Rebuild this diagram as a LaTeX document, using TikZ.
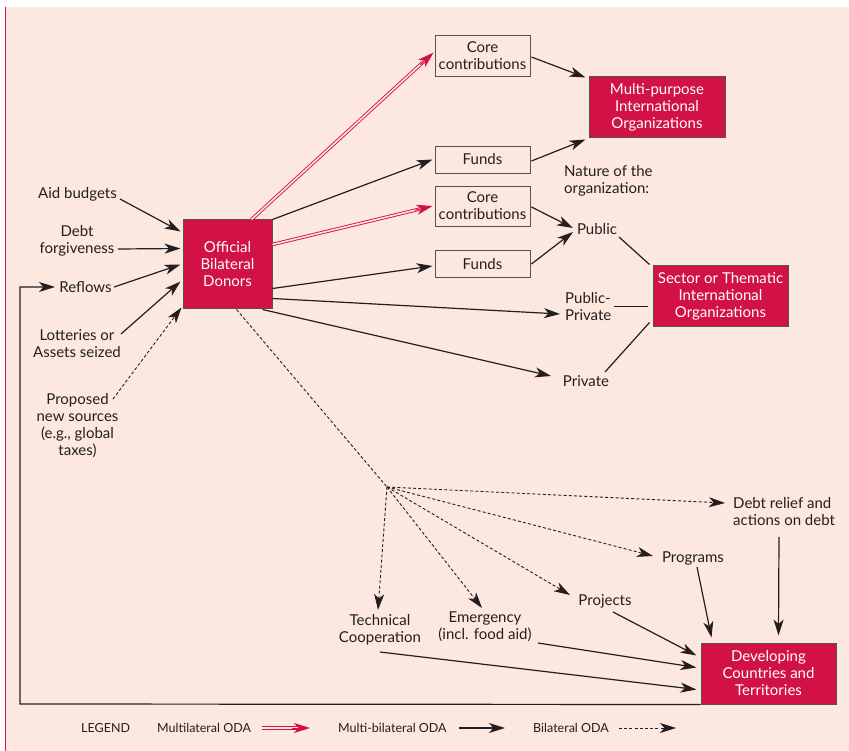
\documentclass[tikz,border=0pt]{standalone}
\usepackage{fontspec}
\setmainfont{Lato}
\usetikzlibrary{arrows.meta,calc}
\definecolor{bg}{HTML}{FCE8DE}
\definecolor{crim}{HTML}{D21145}
\definecolor{ink}{HTML}{231F20}
\definecolor{edge}{HTML}{5A5050}
\begin{document}
\begin{tikzpicture}[x=1pt,y=-1pt,
  txt/.style={font=\fontsize{15}{17}\selectfont, text=ink, inner sep=0pt, align=center},
  leg/.style={font=\fontsize{12.5}{15}\selectfont, text=ink, inner sep=0pt, anchor=west},
  redbox/.style={draw=edge, line width=1pt, fill=crim, text=white, inner sep=1pt,
    font=\fontsize{15}{17}\selectfont, align=center},
  wbox/.style={draw=edge, line width=0.9pt, fill=bg, text=ink, inner sep=0pt,
    font=\fontsize{15}{17}\selectfont, align=center, minimum width=95pt},
  tipa/.style={-{Stealth[length=16pt,width=10pt,inset=4.5pt]}},
  arr/.style={draw=ink, line width=1.2pt, tipa},
  plain/.style={draw=ink, line width=1.2pt},
  dotline/.style={draw=ink, line width=0.9pt, dash pattern=on 3pt off 2.2pt},
  dotarr/.style={dotline, tipa},
  mlshaft/.style={draw=crim, line width=0.9pt, double=bg, double distance=1.6pt, shorten >=10pt},
  mltip/.style={draw=crim, line width=0.9pt, tipa}
]
\useasboundingbox (0,0) rectangle (849,751);
\fill[white] (0,0) rectangle (849,751);
\fill[bg] (5,7) rectangle (849,751);
\draw[crim, line width=1.6pt] (5.6,7) -- (5.6,751);

% main boxes
\node[redbox, minimum width=89pt, minimum height=89pt] (don) at (227.5,264.5) {Official\\Bilateral\\Donors};
\node[redbox, minimum width=136pt, minimum height=61pt] (mp) at (657,107.5) {Multi-purpose\\International\\Organizations};
\node[redbox, minimum width=135pt, minimum height=61pt] (st) at (720.5,296.5) {Sector or Thematic\\International\\Organizations};
\node[redbox, minimum width=135pt, minimum height=61pt] (dev) at (768.5,673.5) {Developing\\Countries and\\Territories};

\node[wbox, minimum height=41pt] (core1) at (482.5,55.5) {Core\\contributions};
\node[wbox, minimum height=27pt] (fund1) at (482.5,159.5) {Funds};
\node[wbox, minimum height=40pt] (core2) at (482.5,206) {Core\\contributions};
\node[wbox, minimum height=27pt] (fund2) at (482.5,264) {Funds};

% left labels
\node[txt] (aid) at (77.5,194) {Aid budgets};
\node[txt] (debt) at (77,240.5) {Debt\\forgiveness};
\node[txt] (refl) at (85.5,287) {Reflows};
\node[txt] (lott) at (77,343.5) {Lotteries or\\Assets seized};
\node[txt] (prop) at (77.5,425.5) {Proposed\\new sources\\(e.g., global\\taxes)};

% right labels
\node[txt, align=left, anchor=west] (nat) at (564,180.5) {Nature of the\\organization:};
\node[txt] (pub) at (597,229) {Public};
\node[txt, align=left, anchor=west] (pp) at (565,306.5) {Public-\\Private};
\node[txt] (priv) at (586,381) {Private};

% lower labels
\node[txt, align=left, anchor=west] (dr) at (733,511.5) {Debt relief and\\actions on debt};
\node[txt] (prog) at (693,558) {Programs};
\node[txt] (proj) at (605,601) {Projects};
\node[txt] (emer) at (485,626.5) {Emergency\\(incl. food aid)};
\node[txt] (tech) at (380,630) {Technical\\Cooperation};
\coordinate (hub) at (387,487);

% inputs to donors
\draw[arr] ([shift={(42.5,5)}]aid.center) -- ([shift={(-2,12)}]don.north west);
\draw[arr] ([shift={(41,8.5)}]debt.center) -- ([shift={(-2,29)}]don.north west);
\draw[arr] ([shift={(28.5,0)}]refl.center) -- ([shift={(-2,45)}]don.north west);
\draw[arr] ([shift={(44,-9.5)}]lott.center) -- ([shift={(-2,62)}]don.north west);
\draw[dotarr] ([shift={(35.5,-26.5)}]prop.center) -- ([shift={(-1,88)}]don.north west);

% feedback loop
\coordinate (fbc) at (20,704);
\draw[arr] (dev.south west) -- (fbc) |- ([shift={(-30.5,0)}]refl.center);

% multilateral (red double)
\coordinate (r1s) at ([shift={(69,0)}]don.north west);
\coordinate (r1e) at ([shift={(-1,18)}]core1.north west);
\draw[mlshaft] (r1s) -- (r1e);
\draw[mltip] ($(r1e)!18pt!(r1s)$) -- (r1e);
\coordinate (r2s) at ([shift={(0,25)}]don.north east);
\coordinate (r2e) at ([shift={(-2,0)}]core2.west);
\draw[mlshaft] (r2s) -- (r2e);
\draw[mltip] ($(r2e)!18pt!(r2s)$) -- (r2e);

% multi-bilateral
\draw[arr] (don.north east) -- ([shift={(-2,0)}]fund1.west);
\draw[arr] ([shift={(0,-21)}]don.south east) -- ([shift={(-2,2)}]fund2.west);
\draw[arr] ([shift={(0,-11)}]don.south east) -- ([shift={(-5,7.5)}]pp.west);
\draw[arr] ([shift={(-10,0)}]don.south east) -- ([shift={(-35,-5)}]priv.center);

\draw[arr] ([shift={(1,1.5)}]core1.east) -- ([shift={(-3,1)}]mp.north west);
\draw[arr] ([shift={(1,1.5)}]fund1.east) -- ([shift={(-3,1)}]mp.south west);
\draw[arr] ([shift={(1,1)}]core2.east) -- ([shift={(-24,-1)}]pub.center);
\draw[arr] ([shift={(1,0)}]fund2.east) -- ([shift={(-24,3)}]pub.center);

\draw[plain] ([shift={(22,8)}]pub.center) -- ([shift={(-3,-1)}]st.north west);
\draw[plain] ([shift={(49,0)}]pp.west) -- ([shift={(-5,10)}]st.west);
\draw[plain] ([shift={(19,-9)}]priv.center) -- ([shift={(-3,-5)}]st.south west);

% bilateral (dotted)
\draw[dotline] ([shift={(54,0)}]don.south west) -- (hub);
\draw[dotarr] (hub) -- ([shift={(-8,-8.5)}]dr.west);
\draw[dotarr] (hub) -- ([shift={(-40,-2)}]prog.center);
\draw[dotarr] (hub) -- ([shift={(-35,-6)}]proj.center);
\draw[dotarr] (hub) -- ([shift={(-3,-18.5)}]emer.center);
\draw[dotarr] (hub) -- ([shift={(-2,-20)}]tech.center);

% to developing countries
\draw[arr] ([shift={(46,25.5)}]dr.west) -- ([shift={(78,-7)}]dev.north west);
\draw[arr] ([shift={(4,9)}]prog.center) -- ([shift={(11,-5)}]dev.north west);
\draw[arr] ([shift={(8,11)}]proj.center) -- ([shift={(-4,13)}]dev.north west);
\draw[arr] ([shift={(53,16.5)}]emer.center) -- ([shift={(-4,25)}]dev.north west);
\draw[arr] ([shift={(0,22)}]tech.center) -- ([shift={(-4,47)}]dev.north west);

% legend
\node[leg] (lg) at (81,728) {LEGEND};
\node[leg] (l1) at (157,728) {Multilateral ODA};
\node[leg] (l2) at (338,728) {Multi-bilateral ODA};
\node[leg] (l3) at (533,728) {Bilateral ODA};
\coordinate (l1a) at (262,728);
\coordinate (l1b) at (310,728);
\draw[mlshaft] (l1a) -- (l1b);
\draw[mltip] ($(l1b)!18pt!(l1a)$) -- (l1b);
\coordinate (l2a) at (459,728);
\coordinate (l2b) at (505,728);
\draw[arr] (l2a) -- (l2b);
\coordinate (l3a) at (619,728);
\coordinate (l3b) at (676,728);
\draw[dotarr] (l3a) -- (l3b);
\end{tikzpicture}
\end{document}
